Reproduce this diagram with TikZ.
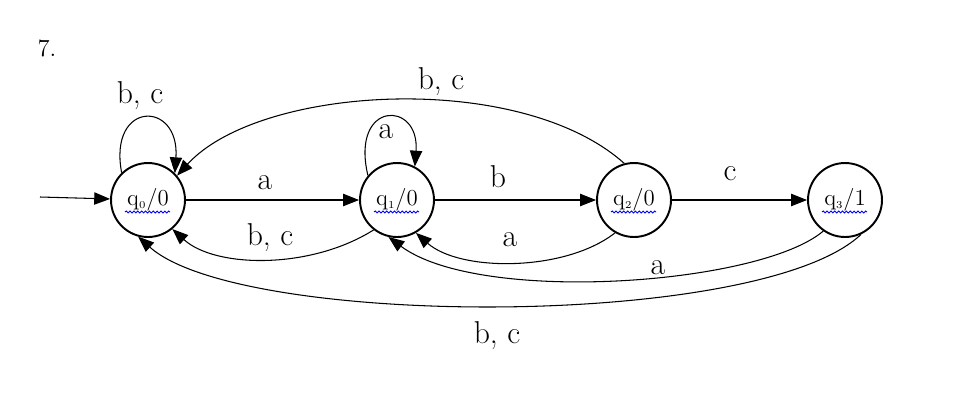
\documentclass[tikz,border=0pt]{standalone}
\usetikzlibrary{arrows.meta,calc,decorations.pathmorphing}
\begin{document}
\begin{tikzpicture}[x=0.02cm,y=-0.02cm,
  st/.style={circle,draw,line width=1.1pt,minimum size=1.48cm,inner sep=0pt,font=\fontsize{13}{15}\selectfont},
  edge/.style={line width=0.6pt,-{Triangle[length=9pt,width=7pt]}},
  lab/.style={font=\fontsize{18}{20}\selectfont,inner sep=0pt},
  wavy/.style={blue,line width=0.5pt,decorate,decoration={snake,amplitude=0.55pt,segment length=2.2pt}}]
\path[use as bounding box] (0,0) rectangle (974,416);
\node[font=\fontsize{14}{16}\selectfont,inner sep=0pt] (num) at (47,48) {7.};
\node[st] (q0) at (148,200) {q$_{\scriptscriptstyle 0}$/0};
\node[st] (q1) at (397,200) {q$_{\scriptscriptstyle 1}$/0};
\node[st] (q2) at (634,200) {q$_{\scriptscriptstyle 2}$/0};
\node[st] (q3) at (845,200) {q$_{\scriptscriptstyle 3}$/1};
\foreach \n in {q0,q1,q2,q3}{
  \draw[wavy] ($(\n)+(-23,12)$) -- ($(\n)+(22,12)$);
}
\coordinate (init) at (40,197);
\draw[edge] (init) -- (q0);
\draw[edge] (q0) -- (q1);
\draw[edge] (q1) -- (q2);
\draw[edge] (q2) -- (q3);
\draw[edge] (q0.134) .. controls (108,100) and (180,100) .. (q0.45);
\draw[edge] (q1.140) .. controls (350,100) and (420,100) .. (q1.62);
\draw[edge] (q2.105) .. controls (520,70) and (260,85) .. (q0.40);
\draw[edge] (q1.-128) .. controls (310,270) and (215,268) .. (q0.-50);
\draw[edge] (q2.-120) .. controls (565,272) and (460,272) .. (q1.-60);
\draw[edge] (q3.-125) .. controls (760,285) and (480,305) .. (q1.-103);
\draw[edge] (q3.-65) .. controls (760,330) and (240,328) .. (q0.-105);
\node[lab] (l1) at (140,96) {b, c};
\node[lab] (l2) at (386,132) {a};
\node[lab] (l3) at (441,82) {b, c};
\node[lab] (l4) at (265,183) {a};
\node[lab] (l5) at (498,177) {b};
\node[lab] (l6) at (730,174) {c};
\node[lab] (l7) at (270,238) {b, c};
\node[lab] (l8) at (510,240) {a};
\node[lab] (l9) at (658,268) {a};
\node[lab] (l10) at (497,336) {b, c};
\end{tikzpicture}
\end{document}
